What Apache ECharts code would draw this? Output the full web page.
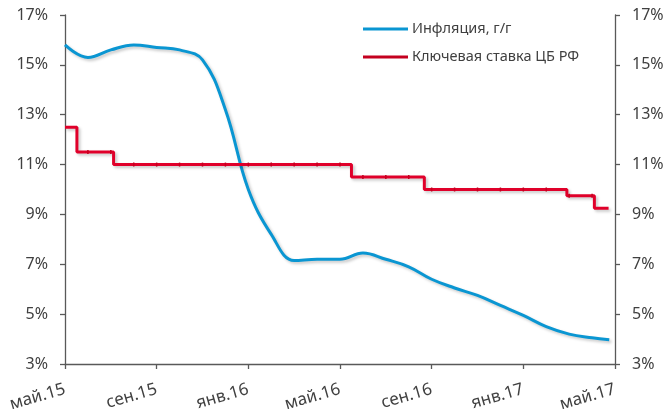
<!DOCTYPE html>
<html>
<head>
<meta charset="utf-8">
<script src="https://cdn.jsdelivr.net/npm/echarts@6/dist/echarts.min.js"></script>
<style>html,body{margin:0;padding:0;background:#fff}#c{width:667px;height:412px}</style>
</head>
<body>
<div id="c"></div>
<script>
// months counted from 1 May 2015
const monthTickLabels = ['май.15','сен.15','янв.16','май.16','сен.16','янв.17','май.17'];
const inflationMonths = [0,1,2,3,4,5,6,7,8,9,10,11,12,13,14,15,16,17,18,19,20,21,22,23,23.75];
const inflationValues = [15.8,15.3,15.6,15.8,15.7,15.6,15.2,13.2,10.0,8.2,7.15,7.2,7.2,7.45,7.2,6.9,6.4,6.05,5.75,5.35,4.95,4.5,4.2,4.05,3.97];
const rateChangeMonths = [0,0.52,2.12,12.5,15.68,21.9,23.1,23.72];
const rateChangeValues = [12.5,11.5,11.0,10.5,10.0,9.75,9.25,9.25];

const blue = '#0a96d2', red = '#e0002a', axisCol = '#595959', txt = '#404040';
const font = '"Noto Sans", "Open Sans", sans-serif';

const inflationData = inflationMonths.map((m,i)=>[m, inflationValues[i]]);
function rateAt(m){ let v = rateChangeValues[0]; for(let i=0;i<rateChangeMonths.length;i++){ if(rateChangeMonths[i] <= m) v = rateChangeValues[i]; } return v; }
const pts = [];
rateChangeMonths.forEach((m,i)=>pts.push({value:[m, rateChangeValues[i]], symbolSize:0}));
for(let m=1;m<=23;m++){ pts.push({value:[m, rateAt(m)], symbolSize:[1.5,4]}); }
pts.sort((a,b)=>a.value[0]-b.value[0]);

const chart = echarts.init(document.getElementById('c'));
const yAx = (pos)=>({
  type:'value', position:pos, min:3, max:17, interval:2,
  axisLine:{show:true, lineStyle:{color:axisCol, width:1.3}},
  axisTick:{show:true, length:5, lineStyle:{color:axisCol, width:1.3}},
  splitLine:{show:false},
  axisLabel:{formatter:'{value}%', color:txt, fontSize:16, fontFamily:font, margin:17}
});
chart.setOption({
  animation:false,
  grid:{left:65, right:52, top:15, bottom:48, containLabel:false, outerBoundsMode:'none'},
  legend:{
    orient:'vertical', left:363, top:21, padding:0, itemGap:12, itemWidth:45, itemHeight:3,
    icon:'rect',
    textStyle:{color:txt, fontSize:14.5, lineHeight:16, fontFamily:font, padding:[0,0,0,-1]},
    data:['Инфляция, г/г','Ключевая ставка ЦБ РФ']
  },
  xAxis:{
    type:'value', min:0, max:24, interval:4,
    axisLine:{lineStyle:{color:axisCol, width:1.3}},
    axisTick:{length:5, lineStyle:{color:axisCol, width:1.3}},
    splitLine:{show:false},
    axisLabel:{rotate:16, color:txt, fontSize:17, fontFamily:font, margin:25,
      formatter:(v)=>monthTickLabels[Math.round(v/4)]}
  },
  yAxis:[yAx('left'), yAx('right')],
  series:[
    {name:'Инфляция, г/г', type:'line', data:inflationData, smooth:0.4, showSymbol:false,
     lineStyle:{color:blue, width:3, shadowColor:'rgba(0,0,0,0.22)', shadowBlur:3, shadowOffsetX:2, shadowOffsetY:2},
     itemStyle:{color:blue}},
    {name:'Ключевая ставка ЦБ РФ', type:'line', step:'end', data:pts, symbol:'rect', showSymbol:true,
     lineStyle:{color:red, width:3, shadowColor:'rgba(0,0,0,0.22)', shadowBlur:3, shadowOffsetX:2, shadowOffsetY:2},
     itemStyle:{color:'#c4001f'}}
  ]
});
</script>
</body>
</html>
